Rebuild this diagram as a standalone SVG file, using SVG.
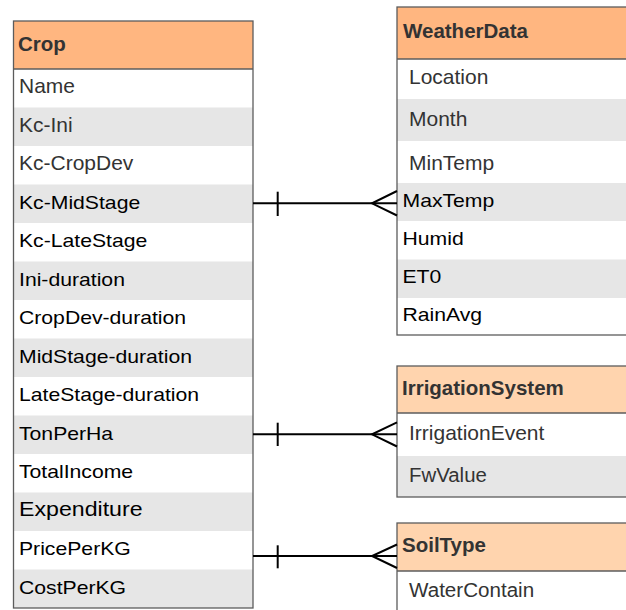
<svg xmlns="http://www.w3.org/2000/svg" width="626" height="610" viewBox="0 0 626 610">
  <style>
    .box { fill: #ffffff; }
    .frame { fill: none; stroke: #5c5c5c; stroke-width: 1.3; }
    .hdr { fill: #ffb680; }
    .hdr2 { fill: #ffd4ae; }
    .alt { fill: #e6e6e6; }
    .title { font-family: "Liberation Sans", Arial, sans-serif; font-weight: bold; font-size: 20.5px; fill: #333333; }
    .fa { font-family: "Liberation Sans", Arial, sans-serif; font-size: 20px; fill: #333333; }
    .fb { font-family: "Liberation Sans", Arial, sans-serif; font-size: 18.5px; fill: #000000; }
    .fc { font-family: "Liberation Sans", Arial, sans-serif; font-size: 20.5px; fill: #000000; }
    .edge { fill: none; stroke: #000000; stroke-width: 2; }
  </style>

  <!-- Crop entity -->
  <g id="crop">
    <rect class="box" x="13.5" y="21" width="239.5" height="587"/>
    <rect class="hdr" x="13.5" y="21" width="239.5" height="48"/>
    <rect class="alt" x="13.5" y="107.5" width="239.5" height="38.5"/>
    <rect class="alt" x="13.5" y="184.5" width="239.5" height="38.5"/>
    <rect class="alt" x="13.5" y="261.5" width="239.5" height="38.5"/>
    <rect class="alt" x="13.5" y="338.5" width="239.5" height="38.5"/>
    <rect class="alt" x="13.5" y="415.5" width="239.5" height="38.5"/>
    <rect class="alt" x="13.5" y="492.5" width="239.5" height="38.5"/>
    <rect class="alt" x="13.5" y="569.5" width="239.5" height="38.5"/>
    <rect class="frame" x="13.5" y="21" width="239.5" height="587"/>
    <line class="frame" x1="13.5" y1="69" x2="253" y2="69"/>
    <text class="title" x="18" y="50.5">Crop</text>
    <text class="fa" transform="translate(19,93.3) scale(1.05,1)">Name</text>
    <text class="fa" transform="translate(19,131.8) scale(1.05,1)">Kc-Ini</text>
    <text class="fa" transform="translate(19,170.3) scale(1.05,1)">Kc-CropDev</text>
    <text class="fb" transform="translate(19,208.8) scale(1.145,1)">Kc-MidStage</text>
    <text class="fb" transform="translate(19,247.3) scale(1.145,1)">Kc-LateStage</text>
    <text class="fb" transform="translate(19,285.8) scale(1.145,1)">Ini-duration</text>
    <text class="fb" transform="translate(19,324.3) scale(1.145,1)">CropDev-duration</text>
    <text class="fb" transform="translate(19,362.8) scale(1.145,1)">MidStage-duration</text>
    <text class="fb" transform="translate(19,401.3) scale(1.145,1)">LateStage-duration</text>
    <text class="fb" transform="translate(19,439.8) scale(1.145,1)">TonPerHa</text>
    <text class="fb" transform="translate(19,478.3) scale(1.145,1)">TotalIncome</text>
    <text class="fc" transform="translate(19,516) scale(1.13,1)">Expenditure</text>
    <text class="fb" transform="translate(19,555.3) scale(1.145,1)">PricePerKG</text>
    <text class="fb" transform="translate(19,593.8) scale(1.145,1)">CostPerKG</text>
  </g>

  <!-- WeatherData entity -->
  <g id="weatherdata">
    <rect class="box" x="397" y="7" width="240" height="328"/>
    <rect class="hdr" x="397" y="7" width="240" height="52"/>
    <rect class="alt" x="397" y="99" width="240" height="42"/>
    <rect class="alt" x="397" y="183" width="240" height="38"/>
    <rect class="alt" x="397" y="259.5" width="240" height="38.5"/>
    <rect class="frame" x="397" y="7" width="240" height="328"/>
    <line class="frame" x1="397" y1="59" x2="626" y2="59"/>
    <text class="title" x="403" y="37.5">WeatherData</text>
    <text class="fa" transform="translate(409,84) scale(1.05,1)">Location</text>
    <text class="fa" transform="translate(409,125.7) scale(1.05,1)">Month</text>
    <text class="fa" transform="translate(409,170) scale(1.05,1)">MinTemp</text>
    <text class="fb" transform="translate(402.5,207.3) scale(1.145,1)">MaxTemp</text>
    <text class="fb" transform="translate(402.5,245) scale(1.145,1)">Humid</text>
    <text class="fb" transform="translate(402.5,282.7) scale(1.145,1)">ET0</text>
    <text class="fb" transform="translate(402.5,320.7) scale(1.145,1)">RainAvg</text>
  </g>

  <!-- IrrigationSystem entity -->
  <g id="irrigationsystem">
    <rect class="box" x="397" y="366" width="240" height="131"/>
    <rect class="hdr2" x="397" y="366" width="240" height="47"/>
    <rect class="alt" x="397" y="456" width="240" height="41"/>
    <rect class="frame" x="397" y="366" width="240" height="131"/>
    <line class="frame" x1="397" y1="413" x2="626" y2="413"/>
    <text class="title" x="402" y="395">IrrigationSystem</text>
    <text class="fa" transform="translate(409,440) scale(1.05,1)">IrrigationEvent</text>
    <text class="fa" transform="translate(409,481.7) scale(1.02,1)">FwValue</text>
  </g>

  <!-- SoilType entity -->
  <g id="soiltype">
    <rect class="box" x="397" y="523" width="240" height="100"/>
    <rect class="hdr2" x="397" y="523" width="240" height="48"/>
    <rect class="frame" x="397" y="523" width="240" height="100"/>
    <line class="frame" x1="397" y1="571" x2="626" y2="571"/>
    <text class="title" x="402" y="551.5">SoilType</text>
    <text class="fa" transform="translate(409,597) scale(1.03,1)">WaterContain</text>
  </g>

  <!-- one-to-many relationships -->
  <g id="connectors">
    <line class="edge" x1="253" y1="203.3" x2="326" y2="203.3" stroke-width="2.4"/>
    <line class="edge" x1="326" y1="203.3" x2="397" y2="203.3" stroke-width="1.7"/>
    <line class="edge" x1="277.7" y1="191.7" x2="277.7" y2="216"/>
    <polyline class="edge" points="397,191 372,203.3 397,215.5"/>

    <line class="edge" x1="253" y1="434.3" x2="397" y2="434.3"/>
    <line class="edge" x1="277.7" y1="422.7" x2="277.7" y2="446"/>
    <polyline class="edge" points="397,422.3 372,434.3 397,446.5"/>

    <line class="edge" x1="253" y1="556" x2="397" y2="556"/>
    <line class="edge" x1="277.7" y1="545.3" x2="277.7" y2="568.3"/>
    <polyline class="edge" points="397,544.5 372,556 397,568"/>
  </g>
</svg>
